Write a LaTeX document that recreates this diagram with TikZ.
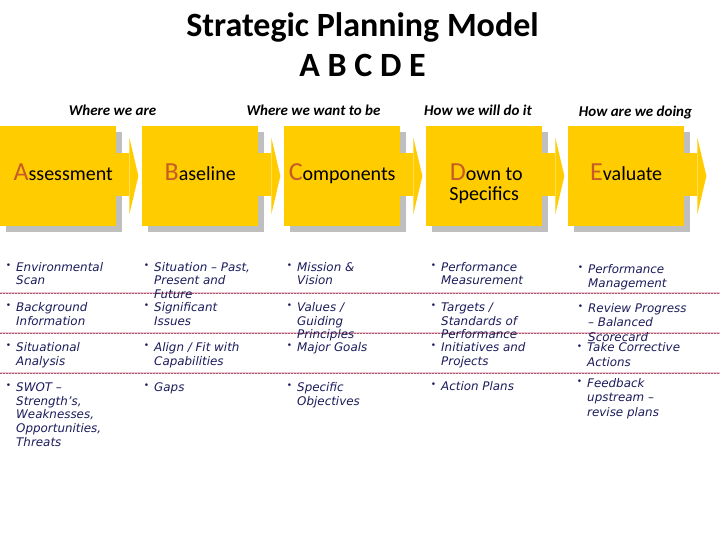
\documentclass[tikz,border=0pt]{standalone}
\usepackage{fontspec}
\setmainfont{Carlito}
\newfontfamily\bulfont{DejaVu Sans}
\usepackage{xcolor}
\usetikzlibrary{positioning,calc,shadows}
\definecolor{spyellow}{HTML}{FFCC00}
\definecolor{spshadow}{HTML}{BFBFBF}
\definecolor{spletter}{HTML}{C65B28}
\definecolor{spnavy}{HTML}{1C1C5C}
\definecolor{spline}{HTML}{A85868}
\definecolor{sppink}{HTML}{EBC3D0}
\newcommand{\initial}[1]{{\color{spletter}\fontsize{26}{26}\selectfont #1}}
\newcommand{\bdot}{\llap{\raisebox{2.6pt}{\fontsize{9}{9}\selectfont •}\hspace{5pt}}}
\newcommand{\blist}[1]{\begin{tabular}[t]{@{}l@{}}\bdot #1\end{tabular}}
\newcommand{\slist}[1]{\begin{tabular}[t]{@{}c@{}}#1\end{tabular}}
\tikzset{
  stage/.style={fill=spyellow,minimum width=116pt,minimum height=100pt,inner sep=0pt,
    text height=10pt,text depth=2pt,font=\fontsize{20}{20}\selectfont,
    drop shadow={shadow xshift=6pt,shadow yshift=-6pt,fill=spshadow,opacity=1}},
  where/.style={anchor=base,inner sep=0pt,font=\fontsize{15}{18}\selectfont\bfseries\itshape},
  bul/.style={anchor=base west,inner sep=0pt,text=spnavy,
    font=\bulfont\itshape\fontsize{11.9}{13.7}\selectfont},
  bulE/.style={bul,font=\bulfont\itshape\fontsize{11.9}{14.4}\selectfont},
  rowline/.style={spline,dash pattern=on 2pt off 1pt,line width=0.5pt,
    preaction={draw=sppink,solid,line width=1.6pt}},
}
\begin{document}
\begin{tikzpicture}[x=1pt,y=-1pt]
\fill[white] (0,0) rectangle (720,540);
\useasboundingbox (0,0) rectangle (720,540);
% title
\node[anchor=base,font=\fontsize{34}{40}\selectfont\bfseries] (title) at (362.5,36.7) {Strategic Planning Model};
\node[anchor=base,font=\fontsize{34}{40}\selectfont\bfseries] (abcde) at (362.5,76.7) {A B C D E};
% stages
\node[stage,anchor=north west] (assess) at (0,126) {\hspace*{10pt}\initial{A}ssessment};
\node[stage,right=25.6pt of assess] (base) {\initial{B}aseline};
\node[stage,right=25.6pt of base] (comp) {\initial{C}omponents};
\node[stage,right=25.6pt of comp] (down) {\slist{\hspace*{4pt}\initial{D}own to\\Specifics}};
\node[stage,right=25.6pt of down] (eval) {\initial{E}valuate};
\foreach \b in {assess,base,comp,down,eval}{
  \fill[spyellow] ($(\b.north east)+(0,27)$) rectangle ++(13,43);
  \fill[spyellow] ($(\b.north east)+(13,12)$) -- ++(9,38) -- ++(-9,38) -- cycle;
}
% questions
\node[where] (qa) at (112.5,116) {Where we are};
\node[where] (qb) at (313.5,116) {Where we want to be};
\node[where] (qc) at (478,116) {How we will do it};
\node[where] (qd) at (635.5,116.7) {How are we doing};
% separators
\foreach \y in {293,333,373}
  \draw[rowline] (0,\y) -- (720,\y);
% column A
\node[bul] (a1) at (16,271) {\blist{Environmental\\Scan}};
\node[bul] (a2) at (16,311.5) {\blist{Background\\Information}};
\node[bul] (a3) at (16,351.5) {\blist{Situational\\Analysis}};
\node[bul] (a4) at (16,391.5) {\blist{SWOT –\\Strength’s,\\Weaknesses,\\Opportunities,\\Threats}};
% column B
\node[bul] (b1) at (154,271) {\blist{Situation – Past,\\Present and\\Future}};
\node[bul] (b2) at (154,311.5) {\blist{Significant\\Issues}};
\node[bul] (b3) at (154,351.5) {\blist{Align / Fit with\\Capabilities}};
\node[bul] (b4) at (154,391.5) {\blist{Gaps}};
% column C
\node[bul] (c1) at (297,271) {\blist{Mission \&\\Vision}};
\node[bul] (c2) at (297,311.5) {\blist{Values /\\Guiding\\Principles}};
\node[bul] (c3) at (297,351.5) {\blist{Major Goals}};
\node[bul] (c4) at (297,391.5) {\blist{Specific\\Objectives}};
% column D
\node[bul] (d1) at (441,271) {\blist{Performance\\Measurement}};
\node[bul] (d2) at (441,311.5) {\blist{Targets /\\Standards of\\Performance}};
\node[bul] (d3) at (441,351.5) {\blist{Initiatives and\\Projects}};
\node[bul] (d4) at (441,390) {\blist{Action Plans}};
% column E
\node[bulE] (e1) at (588,273) {\blist{Performance\\Management}};
\node[bulE] (e2) at (588,312.5) {\blist{Review Progress\\– Balanced\\Scorecard}};
\node[bulE] (e3) at (587,351.7) {\blist{Take Corrective\\Actions}};
\node[bulE] (e4) at (587,387.3) {\blist{Feedback\\upstream –\\revise plans}};
\end{tikzpicture}
\end{document}
